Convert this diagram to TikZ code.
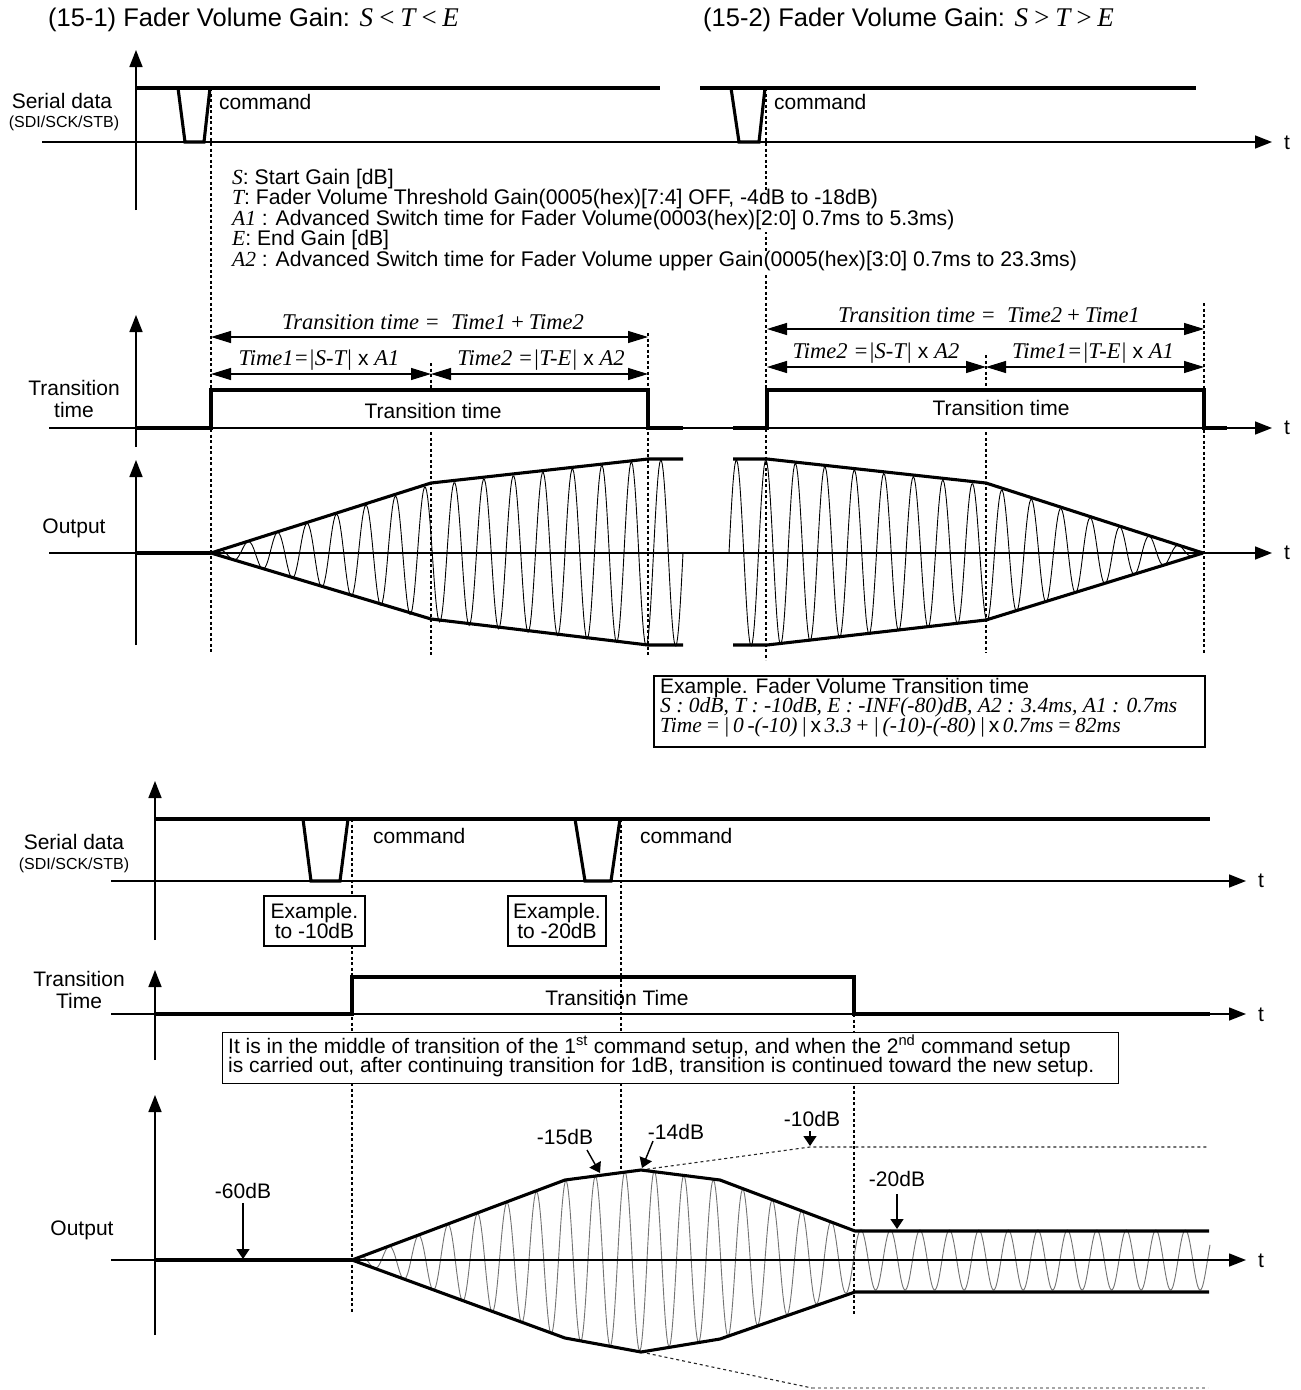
\documentclass[tikz,border=0pt]{standalone}
\usepackage{fontspec}
\setmainfont{Liberation Sans}
\newfontfamily\serf{Liberation Serif}
\usetikzlibrary{arrows.meta}
\newcommand\itx[1]{{\serf\itshape\fontsize{22.5}{22}\selectfont #1}}
\newcommand\itd[1]{{\serf\itshape\fontsize{21.5}{21}\selectfont #1}}
\newcommand\itm[1]{{\serf\itshape\fontsize{21.5}{21}\selectfont #1}}
\newcommand\fs{\fontsize{21}{22}\selectfont}
\newcommand\wv[8]{\draw[#7] plot[domain=#1:#2,samples=#8] (\x,{#6-(#3+((#4-#3)/(#2-#1))*(\x-#1))*sin((360/29.5)*(\x-#5))});}
\begin{document}
\begin{tikzpicture}[x=1pt,y=-1pt,font=\fs,
  thk/.style={line width=3.1pt},
  axa/.style={line width=1.5pt,-{Triangle[length=17pt,width=13pt]}},
  dots/.style={line width=1.1pt,dash pattern=on 3pt off 2.5pt},
  dimar/.style={line width=1.2pt,{Triangle[length=20pt,width=12pt]}-{Triangle[length=20pt,width=12pt]}},
  sarr/.style={line width=1.4pt,-{Triangle[length=10pt,width=13pt]}},
  sine/.style={line width=0.9pt},
  gsine/.style={line width=0.9pt,black!55},
  lbl/.style={inner sep=0pt},
  wl/.style={inner sep=0pt,anchor=west},
  dl/.style={inner sep=0pt,anchor=west,text height=14pt,text depth=4pt},
  defl/.style={inner sep=0pt,anchor=west,text height=14pt,text depth=6.5pt,fill=white},
  bx/.style={draw,line width=1.4pt,inner sep=0pt}]
\fill[white] (0,0) rectangle (1301,1390);
\useasboundingbox (0,0) rectangle (1301,1390);

% titles
\node[wl,font=\fontsize{25.5}{26}\selectfont] (title1) at (48,20) {(15-1) Fader Volume Gain: {\serf\itshape\fontsize{27}{26}\selectfont S\,<\,T\,<\,E}};
\node[wl,font=\fontsize{25.5}{26}\selectfont] (title2) at (703,20) {(15-2) Fader Volume Gain: {\serf\itshape\fontsize{27}{26}\selectfont S\,>\,T\,>\,E}};

% ===== top serial
\draw[axa] (136,210) -- (136,50);
\draw[axa] (42,142) -- (1272,142);
\node[lbl] (ts1) at (1287,143) {t};
\draw[thk] (136,88) -- (660,88);
\draw[thk] (700,88) -- (1196,88);
\draw[thk] (178,88) -- (185,142) -- (204,142) -- (210,88);
\draw[thk] (731,88) -- (739,142) -- (759,142) -- (765,88);
\draw[dots] (211,88) -- (211,652);
\draw[dots] (766,88) -- (766,660);
\node[wl] (cmd1) at (219,102) {command};
\node[wl] (cmd2) at (774,102) {command};
\node[lbl] (sd1) at (62,101) {Serial data};
\node[lbl,font=\fontsize{16}{16}\selectfont] (sdi1) at (64,123) {(SDI/SCK/STB)};

% definitions
\begin{scope}[font=\fontsize{21.2}{22}\selectfont]
\node[defl] (d1) at (232,180.5) {\itd{S}: Start Gain [dB]};
\node[defl] (d2) at (232,201) {\itd{T}: Fader Volume Threshold Gain(0005(hex)[7:4] OFF, -4dB to -18dB)};
\node[defl] (d3) at (232,221.5) {\itd{A1} : Advanced Switch time for Fader Volume(0003(hex)[2:0] 0.7ms to 5.3ms)};
\node[defl] (d4) at (232,242) {\itd{E}: End Gain [dB]};
\node[defl] (d5) at (232,262.5) {\itd{A2} : Advanced Switch time for Fader Volume upper Gain(0005(hex)[3:0] 0.7ms to 23.3ms)};
\end{scope}

% ===== transition time (top)
\draw[axa] (136,447) -- (136,315);
\draw[axa] (49,428) -- (1272,428);
\node[lbl] (ts2) at (1287,428) {t};
\node[lbl,align=center] (tl1) at (74,399) {Transition\\time};
\draw[thk] (136,428) -- (211,428) -- (211,390) -- (648,390) -- (648,428) -- (683,428);
\draw[thk] (733,428) -- (767,428) -- (767,390) -- (1204,390) -- (1204,428) -- (1227,428);
\node[lbl] (tt1) at (433,411) {Transition time};
\node[lbl] (tt2) at (1001,408) {Transition time};
\draw[dots] (431,363) -- (431,390);
\draw[dots] (431,432) -- (431,655);
\draw[dots] (648,333) -- (648,655);
\draw[dots] (986,355) -- (986,390);
\draw[dots] (986,432) -- (986,653);
\draw[dots] (1204,303) -- (1204,653);
\coordinate (a0) at (211,337); \coordinate (a1) at (648,337);
\coordinate (b0) at (211,374); \coordinate (b1) at (431,374); \coordinate (b2) at (648,374);
\draw[dimar] (a0) -- (a1);
\draw[dimar] (b0) -- (b1);
\draw[dimar] (b1) -- (b2);
\node[lbl] (f1) at (433,322) {\itx{Transition time = \ Time1\,+\,Time2}};
\node[lbl] (f2) at (319,360) {\itx{Time1=|S-T|} x \itx{A1}};
\node[lbl] (f3) at (541,360) {\itx{Time2 =|T-E|} x \itx{A2}};
\coordinate (c0) at (767,329); \coordinate (c1) at (1204,329);
\coordinate (e0) at (767,367); \coordinate (e1) at (986,367); \coordinate (e2) at (1204,367);
\draw[dimar] (c0) -- (c1);
\draw[dimar] (e0) -- (e1);
\draw[dimar] (e1) -- (e2);
\node[lbl] (f4) at (989,315) {\itx{Transition time = \ Time2\,+\,Time1}};
\node[lbl] (f5) at (876,353) {\itx{Time2 =|S-T|} x \itx{A2}};
\node[lbl] (f6) at (1093,353) {\itx{Time1=|T-E|} x \itx{A1}};

% ===== output (top)
\wv{211}{431}{0}{68}{211}{553}{sine}{200}
\wv{431}{648}{68}{93}{211}{553}{sine}{200}
\wv{648}{683}{93}{93}{211}{553}{sine}{40}
\wv{729}{767}{93}{93}{729}{553}{sine}{40}
\wv{767}{986}{93}{68}{729}{553}{sine}{200}
\wv{986}{1203}{68}{0}{729}{553}{sine}{200}
\draw[axa] (136,645) -- (136,460);
\draw[axa] (49,553) -- (1272,553);
\node[lbl] (ts3) at (1287,553) {t};
\node[lbl] (ol1) at (74,528) {Output};
\draw[thk] (136,553) -- (211,553);
\draw[thk] (211,553) -- (431,483) -- (648,459) -- (683,459);
\draw[thk] (211,553) -- (431,619) -- (648,645) -- (683,645);
\draw[thk] (733,459) -- (767,459) -- (986,483) -- (1203,553);
\draw[thk] (733,645) -- (767,645) -- (986,620) -- (1203,553);

% example box
\node[bx,line width=1.6pt,minimum width=551pt,minimum height=71pt,anchor=north west] (exbox) at (653,675) {};
\node[dl] (ex1) at (660,688) {Example. Fader Volume Transition time};
\node[dl] (ex2) at (660,707.5) {\itm{S : 0dB, T : -10dB, E : -INF(-80)dB, A2 : 3.4ms, A1 : 0.7ms}};
\node[dl] (ex3) at (660,727) {\itm{Time\,=\,|\,0\,-(-10)\,|}\,x\,\itm{3.3\,+\,|\,(-10)-(-80)\,|}\,x\,\itm{0.7ms\,=\,82ms}};

% ===== bottom serial
\draw[axa] (155,940) -- (155,781);
\draw[axa] (111,881) -- (1246,881);
\node[lbl] (ts4) at (1261,881) {t};
\draw[thk] (155,819) -- (1210,819);
\draw[thk] (303,819) -- (311,881) -- (340,881) -- (348,819);
\draw[thk] (575,819) -- (585,881) -- (611,881) -- (620,819);
\node[wl] (cmd3) at (373,836) {command};
\node[wl] (cmd4) at (640,836) {command};
\node[lbl] (sd2) at (74,842) {Serial data};
\node[lbl,font=\fontsize{16}{16}\selectfont] (sdi2) at (74,865) {(SDI/SCK/STB)};
\draw[dots] (352,819) -- (352,1313);
\draw[dots] (621,819) -- (621,1172);
\node[bx,fill=white,minimum width=101pt,minimum height=50pt,align=center,font=\fontsize{21}{20}\selectfont] (eb1) at (314.5,921) {Example.\\to -10dB};
\node[bx,fill=white,minimum width=98pt,minimum height=50pt,align=center,font=\fontsize{21}{20}\selectfont] (eb2) at (557,921) {Example.\\to -20dB};

% bottom transition
\draw[axa] (155,1060) -- (155,970);
\draw[axa] (111,1014) -- (1246,1014);
\node[lbl] (ts5) at (1261,1015) {t};
\node[lbl,align=center] (tl2) at (79,990) {Transition\\Time};
\draw[thk] (155,1014) -- (352,1014) -- (352,977) -- (854,977) -- (854,1014) -- (1210,1014);
\node[lbl] (tt3) at (617,998) {Transition Time};
\draw[dots] (854,1014) -- (854,1315);
\node[bx,fill=white,minimum width=896pt,minimum height=51pt,anchor=north west] (note) at (222,1032) {};
\node[dl] (n1) at (228,1048) {It is in the middle of transition of the 1\textsuperscript{st} command setup, and when the 2\textsuperscript{nd} command setup};
\node[dl] (n2) at (228,1067) {is carried out, after continuing transition for 1dB, transition is continued toward the new setup.};

% bottom output
\wv{352}{565}{0}{79}{352}{1260}{gsine}{250}
\wv{565}{641}{79}{91}{352}{1260}{gsine}{90}
\wv{641}{720}{91}{79}{352}{1260}{gsine}{90}
\wv{720}{855}{79}{30}{352}{1260}{gsine}{160}
\wv{855}{1210}{30}{30}{352}{1260}{gsine}{400}
\draw[axa] (155,1335) -- (155,1095);
\draw[axa] (111,1260) -- (1246,1260);
\node[lbl] (ts6) at (1261,1261) {t};
\node[lbl] (ol2) at (82,1230) {Output};
\draw[thk] (155,1260) -- (352,1260);
\draw[line width=1.1pt,dashed,black!85] (641,1170) -- (810,1147) -- (1208,1147);
\draw[line width=1.1pt,dashed,black!85] (641,1352) -- (812,1388);
\draw[line width=1.1pt,dashed,black!35] (812,1388) -- (1208,1388);
\draw[thk] (352,1260) -- (565,1180) -- (641,1170) -- (720,1180) -- (855,1231) -- (1209,1231);
\draw[thk] (352,1260) -- (565,1338) -- (641,1352) -- (720,1339) -- (855,1292) -- (1209,1292);
\node[lbl] (l60) at (243,1191) {-60dB};
\coordinate (p60) at (243,1259);
\draw[sarr] (l60.south) ++(0,4) -- (p60);
\node[lbl] (l15) at (565,1137) {-15dB};
\coordinate (p15) at (600,1173);
\draw[sarr] (587,1150) -- (p15);
\node[lbl] (l14) at (676,1132) {-14dB};
\coordinate (p14) at (642,1168);
\draw[sarr] (653,1141) -- (p14);
\node[lbl] (l10) at (812,1119) {-10dB};
\coordinate (p10) at (810,1146);
\draw[sarr] (810,1131) -- (p10);
\node[lbl] (l20) at (897,1179) {-20dB};
\coordinate (p20) at (897,1229);
\draw[sarr] (897,1194) -- (p20);
\end{tikzpicture}
\end{document}
